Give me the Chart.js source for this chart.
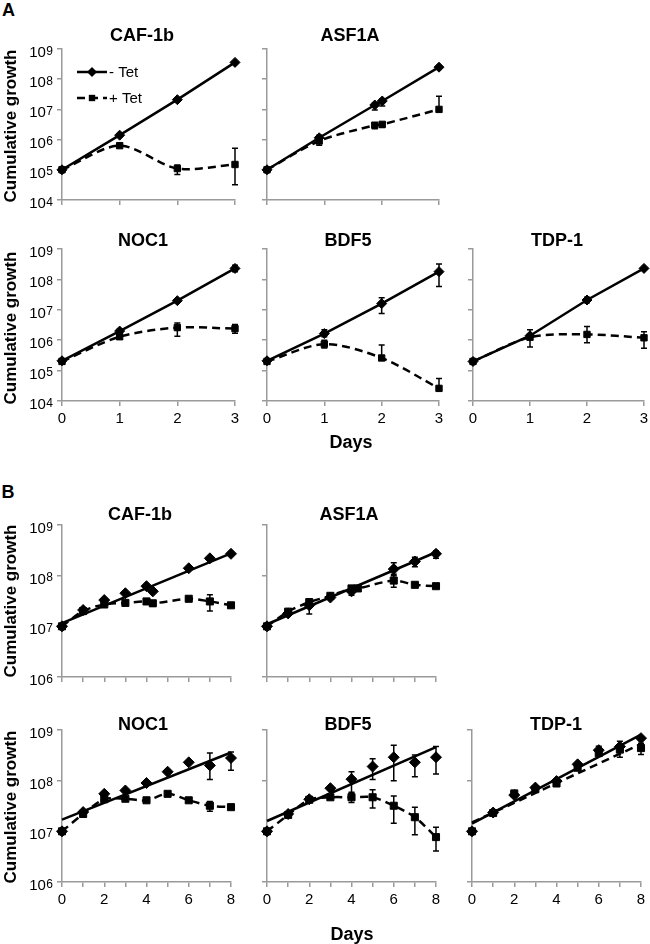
<!DOCTYPE html>
<html>
<head>
<meta charset="utf-8">
<script src="https://cdn.jsdelivr.net/npm/chart.js@4.4.1/dist/chart.umd.min.js"></script>
<style>
  body { margin: 0; background: #fff; }
  #fig { position: relative; width: 650px; height: 944px; overflow: hidden;
         font-family: "Liberation Sans", Arial, Helvetica, sans-serif; color: #000; }
  #fig canvas { position: absolute; }
  .lbl { position: absolute; font-weight: bold; line-height: 1; white-space: nowrap;
         transform: translate(-50%, -50%); }
  .ylab { transform: translate(-50%, -50%) rotate(-90deg); }
</style>
</head>
<body>
<div id="fig"></div>
<script>
// ---- data: panel A (days 0-3) ----
const daysA = [0, 1, 2, 3];
const daysAsfA = [0, 0.91, 1.88, 2.01, 3];
const yTicksA = [1e4, 1e5, 1e6, 1e7, 1e8, 1e9];

const cafA_minus = [1e5, 1.4e6, 2.1e7, 3.6e8];
const cafA_plus = [1e5, 6.3e5, 1.1e5, 1.5e5];
const cafA_plusErr = [null, null, [7e4, 1.45e5], [3.2e4, 5.2e5]];

const asfA_minus = [1e5, 1.15e6, 1.4e7, 1.9e7, 2.5e8];
const asfA_minusErr = [null, [9e5, 1.4e6], [9.5e6, 1.6e7], [1.3e7, 2.2e7], null];
const asfA_plus = [1e5, 9e5, 3e6, 3.2e6, 1e7];
const asfA_plusErr = [null, [6.5e5, 1.2e6], [2.3e6, 3.5e6], [2.5e6, 3.6e6], [1e7, 2.7e7]];

const nocA_minus = [2.1e5, 2e6, 2e7, 2.3e8];
const nocA_minusErr = [null, [1.7e6, 2.3e6], null, [1.8e8, 2.9e8]];
const nocA_plus = [2e5, 1.3e6, 2.6e6, 2.4e6];
const nocA_plusErr = [null, [1.1e6, 1.6e6], [1.35e6, 3.7e6], [1.7e6, 3.3e6]];

const bdfA_minus = [2.1e5, 1.65e6, 1.6e7, 1.8e8];
const bdfA_minusErr = [null, [1.3e6, 2.2e6], [7.6e6, 2.5e7], [5.8e7, 3.2e8]];
const bdfA_plus = [2e5, 7.4e5, 2.6e5, 2.6e4];
const bdfA_plusErr = [null, [5.5e5, 1e6], [2.6e5, 6.9e5], [2.2e4, 5.5e4]];

const tdpA_minus = [2e5, 1.4e6, 2.1e7, 2.3e8];
const tdpA_minusErr = [null, null, [1.7e7, 2.6e7], null];
const tdpA_plus = [2e5, 1.25e6, 1.55e6, 1.2e6];
const tdpA_plusErr = [null, [6e5, 2.2e6], [8.2e5, 2.8e6], [5.4e5, 1.9e6]];

// ---- data: panel B (days 0-8) ----
const daysB = [0, 1, 2, 3, 4, 5, 6, 7, 8];
const daysCafB = [0, 1, 2, 3, 4, 4.3, 6, 7, 8];
const daysAsfB_minus = [0, 1, 2, 3, 4, 6, 7, 8];
const daysAsfB_plus = [0, 1, 2, 3, 4, 4.3, 6, 7, 8];
const fitDaysB = [0, 8];
const yTicksB = [1e6, 1e7, 1e8, 1e9];

const cafB_minus = [1e7, 2.1e7, 3.3e7, 4.5e7, 6.2e7, 4.9e7, 1.4e8, 2.2e8, 2.7e8];
const cafB_minusFit = [1.16e7, 2.75e8];
const cafB_plus = [1e7, 2e7, 2.7e7, 2.9e7, 3.1e7, 2.85e7, 3.5e7, 3.1e7, 2.6e7];
const cafB_plusErr = [null, null, null, null, null, [2.5e7, 3.2e7], null, [2e7, 4.2e7], null];

const asfB_minus = [1e7, 1.8e7, 2.6e7, 3.7e7, 4.9e7, 1.35e8, 1.9e8, 2.7e8];
const asfB_minusErr = [null, null, [1.75e7, 3.5e7], null, [4.1e7, 5.9e7], [1.07e8, 1.8e8], [1.5e8, 2.3e8], [2.2e8, 3.1e8]];
const asfB_minusFit = [1.1e7, 2.9e8];
const asfB_plus = [1e7, 1.95e7, 3e7, 4e7, 5.6e7, 5.6e7, 8e7, 6.6e7, 6.2e7];
const asfB_plusErr = [null, null, [2.6e7, 3.4e7], null, null, null, [5.9e7, 1e8], null, null];

const nocB_minus = [1e7, 2.4e7, 5.5e7, 6.4e7, 9e7, 1.5e8, 2.3e8, 2e8, 2.8e8];
const nocB_minusErr = [null, null, null, null, null, null, null, [1.05e8, 3.5e8], [1.6e8, 3.7e8]];
const nocB_minusFit = [1.7e7, 3.6e8];
const nocB_plus = [1e7, 2.2e7, 4.3e7, 4.4e7, 4.1e7, 5.5e7, 4.1e7, 3.2e7, 3e7];
const nocB_plusErr = [null, null, null, null, null, null, null, [2.5e7, 3.9e7], null];

const bdfB_minus = [1e7, 2.2e7, 4.3e7, 7.1e7, 1.07e8, 1.9e8, 2.9e8, 2.3e8, 2.9e8];
const bdfB_minusErr = [null, null, null, null, [5.9e7, 1.5e8], [1.05e8, 2.7e8], [1e8, 5e8], [1.2e8, 3.2e8], [1.35e8, 4.7e8]];
const bdfB_minusFit = [1.6e7, 4.6e8];
const bdfB_plus = [1e7, 2.1e7, 4.2e7, 4.7e7, 4.7e7, 4.7e7, 3.2e7, 1.9e7, 7.7e6];
const bdfB_plusErr = [null, null, null, null, [3.7e7, 5.6e7], [2.9e7, 6.6e7], [1.45e7, 5e7], [8.6e6, 3e7], [4.1e6, 1.2e7]];

const tdpB_minus = [1e7, 2.35e7, 5.2e7, 7.3e7, 9.8e7, 2.1e8, 4e8, 4.7e8, 6.9e8];
const tdpB_minusErr = [null, null, null, null, null, null, [3.3e8, 4.8e8], null, null];
const tdpB_minusFit = [1.42e7, 8.1e8];
const tdpB_plus = [1e7, 2.3e7, 5.6e7, 6.8e7, 8.8e7, 1.8e8, 3.5e8, 4.1e8, 4.4e8];
const tdpB_plusErr = [null, null, null, null, null, null, null, [2.9e8, 6e8], [3.3e8, 5.5e8]];
const tdpB_plusFit = [1.5e7, 5.3e8];

// ---- layout ----
const FONT = '"Liberation Sans", Arial, Helvetica, sans-serif';
Chart.defaults.font.family = FONT;
Chart.defaults.font.size = 15;
Chart.defaults.color = "#000";

const AXIS_GREY = "#9a9a9a";

const panels = [
  { title: "CAF-1b", area: [62, 49, 235, 200], xMax: 3, yTicks: yTicksA, yLab: true, xLab: false, legend: true,
    minusX: daysA, minus: cafA_minus, plusX: daysA, plus: cafA_plus, plusErr: cafA_plusErr },
  { title: "ASF1A", area: [267, 49, 439, 200], xMax: 3, yTicks: yTicksA, yLab: false, xLab: false,
    minusX: daysAsfA, minus: asfA_minus, minusErr: asfA_minusErr, plusX: daysAsfA, plus: asfA_plus, plusErr: asfA_plusErr },
  { title: "NOC1", area: [62, 249, 235, 401], xMax: 3, yTicks: yTicksA, yLab: true, xLab: true,
    minusX: daysA, minus: nocA_minus, minusErr: nocA_minusErr, plusX: daysA, plus: nocA_plus, plusErr: nocA_plusErr },
  { title: "BDF5", area: [267, 249, 439, 401], xMax: 3, yTicks: yTicksA, yLab: false, xLab: true,
    minusX: daysA, minus: bdfA_minus, minusErr: bdfA_minusErr, plusX: daysA, plus: bdfA_plus, plusErr: bdfA_plusErr },
  { title: "TDP-1", area: [473, 249, 644, 401], xMax: 3, yTicks: yTicksA, yLab: false, xLab: true,
    minusX: daysA, minus: tdpA_minus, minusErr: tdpA_minusErr, plusX: daysA, plus: tdpA_plus, plusErr: tdpA_plusErr },

  { title: "CAF-1b", area: [62, 525, 231, 677], xMax: 8, yTicks: yTicksB, yLab: true, xLab: false, big: true,
    minusX: daysCafB, minus: cafB_minus, minusFit: cafB_minusFit, plusX: daysCafB, plus: cafB_plus, plusErr: cafB_plusErr },
  { title: "ASF1A", area: [267, 525, 436, 677], xMax: 8, yTicks: yTicksB, yLab: false, xLab: false, big: true,
    minusX: daysAsfB_minus, minus: asfB_minus, minusErr: asfB_minusErr, minusFit: asfB_minusFit,
    plusX: daysAsfB_plus, plus: asfB_plus, plusErr: asfB_plusErr },
  { title: "NOC1", area: [62, 730, 231, 882], xMax: 8, yTicks: yTicksB, yLab: true, xLab: true, big: true,
    minusX: daysB, minus: nocB_minus, minusErr: nocB_minusErr, minusFit: nocB_minusFit, plusX: daysB, plus: nocB_plus, plusErr: nocB_plusErr },
  { title: "BDF5", area: [267, 730, 436, 882], xMax: 8, yTicks: yTicksB, yLab: false, xLab: true, big: true,
    minusX: daysB, minus: bdfB_minus, minusErr: bdfB_minusErr, minusFit: bdfB_minusFit, plusX: daysB, plus: bdfB_plus, plusErr: bdfB_plusErr },
  { title: "TDP-1", area: [472, 730, 641, 882], xMax: 8, yTicks: yTicksB, yLab: false, xLab: true, big: true,
    minusX: daysB, minus: tdpB_minus, minusErr: tdpB_minusErr, minusFit: tdpB_minusFit,
    plusX: daysB, plus: tdpB_plus, plusErr: tdpB_plusErr, plusFit: tdpB_plusFit },
];

// text: [text, cx, cy, size, class]
const labels = [
  ["A", 8.5, 9.5, 18, ""], ["B", 8, 491.5, 18, ""],
  ["CAF-1b", 142, 34.5, 18, ""], ["ASF1A", 350, 34.5, 18, ""],
  ["NOC1", 143, 240, 18, ""], ["BDF5", 348, 240, 18, ""], ["TDP-1", 557, 240, 18, ""],
  ["CAF-1b", 140, 514, 18, ""], ["ASF1A", 349, 514, 18, ""],
  ["NOC1", 143, 723.5, 18, ""], ["BDF5", 348, 723.5, 18, ""], ["TDP-1", 556, 723.5, 18, ""],
  ["Days", 351, 442, 18, ""], ["Days", 352, 934, 18, ""],
  ["Cumulative growth", 10, 126, 17, "ylab"], ["Cumulative growth", 10, 328, 17, "ylab"],
  ["Cumulative growth", 10, 601, 17, "ylab"], ["Cumulative growth", 10, 807, 17, "ylab"],
];

function pts(xs, ys) {
  return xs.map((x, i) => ({ x: x, y: ys[i] }));
}

// marker helper for the inset legend
function marker(ctx, style, x, y, r) {
  ctx.beginPath();
  if (style === "rectRot") {
    ctx.moveTo(x, y - r); ctx.lineTo(x + r, y); ctx.lineTo(x, y + r); ctx.lineTo(x - r, y);
  } else {
    const s = r * Math.SQRT1_2;
    ctx.rect(x - s, y - s, 2 * s, 2 * s);
  }
  ctx.closePath();
  ctx.fill();
}

// vertical error bars with caps
const errorBars = {
  id: "errorBars",
  afterDatasetsDraw(chart) {
    const { ctx, scales } = chart;
    ctx.save();
    ctx.strokeStyle = "#000";
    ctx.lineWidth = 1.5;
    chart.data.datasets.forEach((ds) => {
      if (!ds.err) return;
      ds.err.forEach((e, i) => {
        if (!e) return;
        const px = scales.x.getPixelForValue(ds.data[i].x);
        const lo = scales.y.getPixelForValue(e[0]);
        const hi = scales.y.getPixelForValue(e[1]);
        ctx.beginPath();
        ctx.moveTo(px, lo); ctx.lineTo(px, hi);
        ctx.moveTo(px - 3, lo); ctx.lineTo(px + 3, lo);
        ctx.moveTo(px - 3, hi); ctx.lineTo(px + 3, hi);
        ctx.stroke();
      });
    });
    ctx.restore();
  },
};

// "10" with a raised exponent for each y tick
const powerLabels = {
  id: "powerLabels",
  afterDraw(chart) {
    const { ctx, chartArea, scales } = chart;
    const right = chartArea.left - 9;
    ctx.save();
    ctx.fillStyle = "#000";
    ctx.textAlign = "right";
    ctx.textBaseline = "alphabetic";
    scales.y.ticks.forEach((t) => {
      const y = scales.y.getPixelForValue(t.value);
      const exp = String(Math.round(Math.log10(t.value)));
      ctx.font = "12px " + FONT;
      const ew = ctx.measureText(exp).width;
      ctx.fillText(exp, right, y + 5.5);
      ctx.font = "15px " + FONT;
      ctx.fillText("10", right - ew - 0.5, y + 8);
    });
    ctx.restore();
  },
};

// legend drawn inside the first panel
const insetLegend = {
  id: "insetLegend",
  afterDraw(chart) {
    const { ctx, chartArea } = chart;
    ctx.save();
    chart.data.datasets.slice(0, 2).forEach((ds, i) => {
      const y = chartArea.top + 23 + i * 26;
      const x0 = chartArea.left + 15, x1 = chartArea.left + 45;
      ctx.strokeStyle = "#000";
      ctx.fillStyle = "#000";
      ctx.lineWidth = 2.5;
      ctx.setLineDash(ds.borderDash || []);
      ctx.beginPath(); ctx.moveTo(x0, y); ctx.lineTo(x1, y); ctx.stroke();
      ctx.setLineDash([]);
      marker(ctx, ds.pointStyle, (x0 + x1) / 2, y, ds.pointRadius);
      ctx.font = "15px " + FONT;
      ctx.textBaseline = "middle";
      ctx.fillText(ds.label, x1 + 2, y + 1);
    });
    ctx.restore();
  },
};

function buildPanel(p) {
  const fig = document.getElementById("fig");
  const [L, T, R, B] = p.area;
  const YW = 50, XH = 34, PT = 15, PR = 15;
  const canvas = document.createElement("canvas");
  canvas.width = R - L + YW + PR;
  canvas.height = B - T + PT + XH;
  canvas.style.left = L - YW + "px";
  canvas.style.top = T - PT + "px";
  fig.appendChild(canvas);

  const datasets = [
    {
      label: "- Tet",
      data: pts(p.minusX, p.minus),
      showLine: !p.minusFit,
      borderColor: "#000",
      backgroundColor: "#000",
      borderWidth: 2.5,
      tension: 0,
      pointStyle: "rectRot",
      pointRadius: p.big ? 5.5 : 5,
      pointBorderWidth: 1,
      err: p.minusErr,
      clip: false,
    },
    {
      label: "+ Tet",
      data: pts(p.plusX, p.plus),
      showLine: !p.plusFit,
      borderColor: "#000",
      backgroundColor: "#000",
      borderWidth: 2.5,
      borderDash: [8, 5],
      tension: 0.3,
      pointStyle: "rect",
      pointRadius: p.big ? 5 : 4.5,
      pointBorderWidth: 1,
      err: p.plusErr,
      clip: false,
    },
  ];
  if (p.minusFit) {
    datasets.push({ label: "- Tet fit", data: pts(fitDaysB, p.minusFit), borderColor: "#000",
      borderWidth: 2.5, pointRadius: 0, clip: false });
  }
  if (p.plusFit) {
    datasets.push({ label: "+ Tet fit", data: pts(fitDaysB, p.plusFit), borderColor: "#000",
      borderWidth: 2.5, borderDash: [8, 5], pointRadius: 0, clip: false });
  }

  const plugins = [errorBars];
  if (p.yLab) plugins.push(powerLabels);
  if (p.legend) plugins.push(insetLegend);

  new Chart(canvas, {
    type: "line",
    data: { datasets: datasets },
    plugins: plugins,
    options: {
      responsive: false,
      animation: false,
      devicePixelRatio: 1,
      layout: { padding: { top: PT, right: PR, left: 0, bottom: 0 } },
      plugins: { legend: { display: false }, tooltip: { enabled: false } },
      scales: {
        x: {
          type: "linear",
          min: 0,
          max: p.xMax,
          grid: { drawOnChartArea: false, color: AXIS_GREY, tickLength: 5, lineWidth: 1.5 },
          border: { color: AXIS_GREY, width: 1.5 },
          ticks: {
            display: p.xLab,
            stepSize: 1,
            autoSkip: false,
            maxRotation: 0,
            padding: 4,
            callback: (v) => (p.xMax === 8 && v % 2 ? "" : String(v)),
          },
          afterFit: (s) => { s.height = XH; s.paddingLeft = 0; s.paddingRight = 0; },
        },
        y: {
          type: "logarithmic",
          min: p.yTicks[0],
          max: p.yTicks[p.yTicks.length - 1],
          grid: { drawOnChartArea: false, color: AXIS_GREY, tickLength: 5, lineWidth: 1.5 },
          border: { color: AXIS_GREY, width: 1.5 },
          ticks: { display: false },
          afterBuildTicks: (s) => { s.ticks = p.yTicks.map((v) => ({ value: v })); },
          afterFit: (s) => { s.width = YW; s.paddingTop = 0; s.paddingBottom = 0; },
        },
      },
    },
  });
}

panels.forEach(buildPanel);

labels.forEach(([text, cx, cy, size, cls]) => {
  const d = document.createElement("div");
  d.className = "lbl " + cls;
  d.textContent = text;
  d.style.left = cx + "px";
  d.style.top = cy + "px";
  d.style.fontSize = size + "px";
  document.getElementById("fig").appendChild(d);
});
</script>
</body>
</html>
